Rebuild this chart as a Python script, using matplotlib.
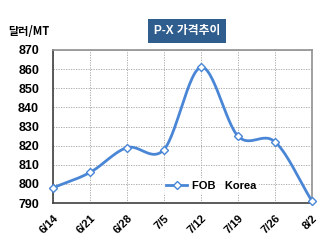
import numpy as np
import matplotlib
matplotlib.use("Agg")
import matplotlib.pyplot as plt
from matplotlib.lines import Line2D

dates = ["6/14", "6/21", "6/28", "7/5", "7/12", "7/19", "7/26", "8/2"]
fob_korea = [798, 806, 819, 818, 861, 825, 822, 791]
yticks = [790, 800, 810, 820, 830, 840, 850, 860, 870]

plt.rcParams['font.family'] = ['Liberation Sans', 'Noto Sans CJK KR', 'DejaVu Sans']

fig = plt.figure(figsize=(3.23, 2.45), dpi=100)
ax = fig.add_axes([0.164, 0.171, 0.802, 0.625])

x = np.arange(len(dates), dtype=float)
y = np.array(fob_korea, dtype=float)

# Catmull-Rom smoothing (similar to Excel smoothed line)
def smooth(xp, yp, n=30):
    P = np.column_stack([xp, yp])
    P = np.vstack([P[0] * 2 - P[1], P, P[-1] * 2 - P[-2]])
    out = []
    for i in range(1, len(P) - 2):
        p0, p1, p2, p3 = P[i - 1], P[i], P[i + 1], P[i + 2]
        c1 = p1 + (p2 - p0) / 6
        c2 = p2 - (p3 - p1) / 6
        t = np.linspace(0, 1, n)[:, None]
        seg = (1 - t) ** 3 * p1 + 3 * (1 - t) ** 2 * t * c1 + 3 * (1 - t) * t ** 2 * c2 + t ** 3 * p2
        out.append(seg if i == 1 else seg[1:])
    s = np.vstack(out)
    return s[:, 0], s[:, 1]

sx, sy = smooth(x, y)
color = '#4A86D6'
ax.plot(sx, sy, color=color, lw=2.0, zorder=3, clip_on=False)
ax.plot(x, y, ls='none', marker='D', ms=4.5, mfc='white', mec=color, mew=1.0, zorder=4, clip_on=False)

ax.set_xlim(0, len(dates) - 1)
ax.set_ylim(790, 870)
ax.set_yticks(yticks)
ax.set_xticks(x)
ax.set_xticklabels(dates, rotation=45, ha='right', rotation_mode='anchor', fontsize=8, fontweight='bold')
ax.set_yticklabels([str(v) for v in yticks], fontsize=9, fontweight='bold')
ax.tick_params(length=0)
ax.tick_params(axis='y', pad=10)
ax.tick_params(axis='x', pad=7)
ax.grid(True, color='#A0A0A0', ls=(0, (1.5, 1.5)), lw=0.6)
for sp in ax.spines.values():
    sp.set_color('#909090')
    sp.set_linewidth(1.2)
ax.spines['left'].set_color('#404040')
ax.spines['bottom'].set_color('#404040')

handle = Line2D([], [], color=color, lw=2.0, marker='D', ms=4.5, mfc='white', mec=color, mew=1.0)
leg = ax.legend([handle], ['FOB   Korea'], loc='lower center', bbox_to_anchor=(0.61, 0.02),
                frameon=True, prop={'weight': 'bold', 'size': 8},
                handlelength=1.9, borderpad=0.3, handletextpad=0.4)
leg.get_frame().set_facecolor('white')
leg.get_frame().set_edgecolor('none')

fig.text(0.58, 0.875, 'P-X 가격추이', ha='center', va='center', color='white',
         fontsize=8.5, fontweight='bold',
         family=['Liberation Sans', 'Noto Sans CJK KR'],
         bbox=dict(boxstyle='square,pad=0.5', fc='#2F5D8E', ec='none'))
fig.text(0.025, 0.87, '달러/MT', ha='left', va='center', fontsize=8, fontweight='bold',
         family=['Noto Sans CJK KR', 'Liberation Sans'])

fig.savefig('out.png', dpi=100)
